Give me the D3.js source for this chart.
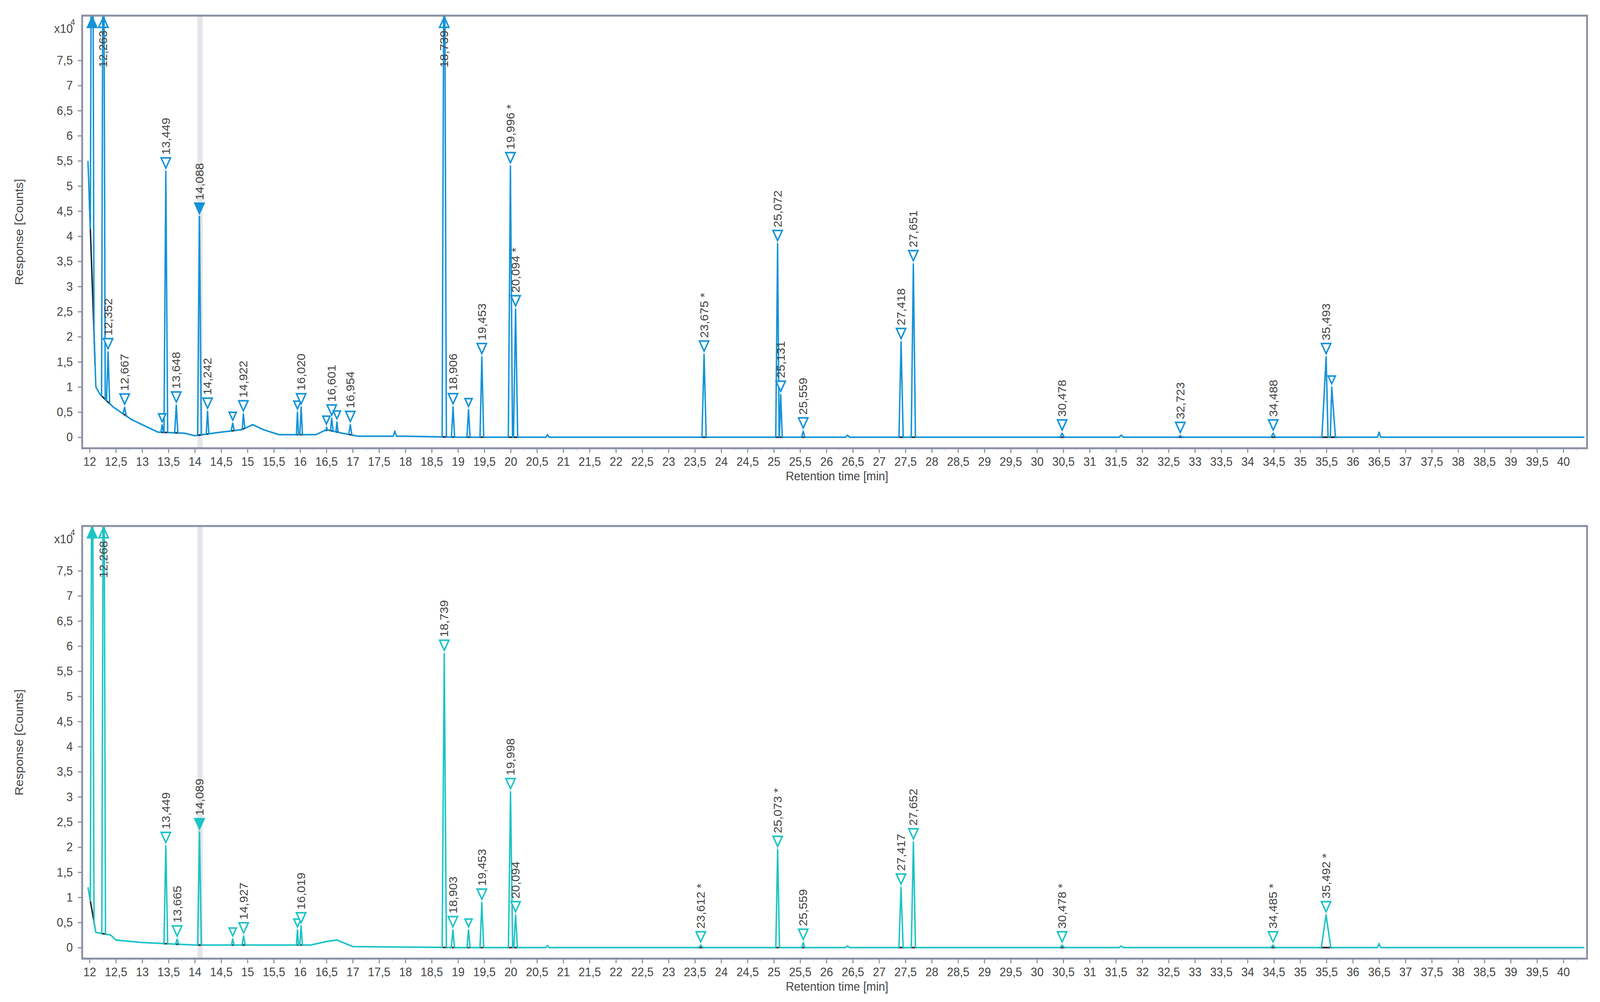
<!DOCTYPE html>
<html><head><meta charset="utf-8">
<script src="https://cdn.jsdelivr.net/npm/d3@7"></script>
<style>html,body{margin:0;padding:0;background:#fff;overflow:hidden}svg{display:block;width:100vw;height:100vh}text{font-family:"Liberation Sans",Arial,sans-serif;fill:#444}</style>
</head><body>
<svg id="chart" viewBox="0 0 4439 2564" preserveAspectRatio="none"></svg>
<script>
// peaks: [retention time, height (x10^4), half width, label, marker]
// marker: v = open down triangle, f = filled, u = off-scale (up triangle at top)
const topPeaks = [
  [12.05, 12, 0.035, '', 'u'], [12.263, 12, 0.035, '12,263', 'u'], [12.352, 1.0, 0.03, '12,352', 'v'],
  [12.667, 0.15, 0.03, '12,667', 'v'], [13.38, 0.15, 0.025, '', 'v'], [13.449, 5.2, 0.035, '13,449', 'v'],
  [13.648, 0.55, 0.03, '13,648', 'v'], [14.088, 4.35, 0.035, '14,088', 'f'], [14.242, 0.45, 0.025, '14,242', 'v'],
  [14.72, 0.15, 0.03, '', 'v'], [14.922, 0.3, 0.03, '14,922', 'v'], [15.95, 0.45, 0.02, '', 'v'],
  [16.02, 0.55, 0.025, '16,020', 'v'], [16.5, 0.05, 0.02, '', 'v'], [16.601, 0.25, 0.025, '16,601', 'v'],
  [16.7, 0.2, 0.02, '', 'v'], [16.954, 0.2, 0.03, '16,954', 'v'], [17.8, 0.1, 0.03, '', ''],
  [18.739, 12, 0.04, '18,739', 'u'], [18.906, 0.6, 0.03, '18,906', 'v'], [19.2, 0.55, 0.03, '', 'v'],
  [19.453, 1.6, 0.035, '19,453', 'v'], [19.996, 5.4, 0.04, '19,996 *', 'v'], [20.094, 2.55, 0.04, '20,094 *', 'v'],
  [20.7, 0.05, 0.03, '', ''], [23.675, 1.65, 0.04, '23,675 *', 'v'], [25.072, 3.85, 0.035, '25,072', 'v'],
  [25.131, 0.85, 0.03, '25,131', 'v'], [25.559, 0.12, 0.03, '25,559', 'v'], [26.4, 0.04, 0.04, '', ''],
  [27.418, 1.9, 0.04, '27,418', 'v'], [27.651, 3.45, 0.04, '27,651', 'v'], [30.478, 0.08, 0.04, '30,478', 'v'],
  [31.6, 0.04, 0.04, '', ''], [32.723, 0.03, 0.04, '32,723', 'v'], [34.488, 0.08, 0.04, '34,488', 'v'],
  [35.493, 1.6, 0.08, '35,493', 'v'], [35.6, 1.0, 0.07, '', 'v'], [36.5, 0.1, 0.03, '', '']
]
const topBase = [[11.97, 5.5], [12.12, 1.0], [12.2, 0.85], [12.45, 0.6], [12.8, 0.35], [13.0, 0.25], [13.3, 0.1],
  [13.8, 0.08], [14.0, 0.03], [14.5, 0.1], [14.9, 0.15], [15.1, 0.25], [15.3, 0.15], [15.6, 0.05], [16.3, 0.05],
  [16.5, 0.15], [16.8, 0.08], [17.1, 0.02], [18, 0.02], [19, 0], [40.4, 0]]

const bottomPeaks = [
  [12.05, 12, 0.035, '', 'u'], [12.268, 12, 0.035, '12,268', 'u'], [13.449, 1.95, 0.035, '13,449', 'v'],
  [13.665, 0.1, 0.03, '13,665', 'v'], [14.089, 2.25, 0.035, '14,089', 'f'], [14.72, 0.12, 0.025, '', 'v'],
  [14.927, 0.18, 0.03, '14,927', 'v'], [15.95, 0.3, 0.02, '', 'v'], [16.019, 0.38, 0.025, '16,019', 'v'],
  [18.739, 5.85, 0.04, '18,739', 'v'], [18.903, 0.35, 0.03, '18,903', 'v'], [19.2, 0.35, 0.03, '', 'v'],
  [19.453, 0.9, 0.035, '19,453', 'v'], [19.998, 3.1, 0.04, '19,998', 'v'], [20.094, 0.65, 0.035, '20,094', 'v'],
  [20.7, 0.04, 0.03, '', ''], [23.612, 0.05, 0.04, '23,612 *', 'v'], [25.073, 1.95, 0.035, '25,073 *', 'v'],
  [25.559, 0.1, 0.03, '25,559', 'v'], [26.4, 0.03, 0.04, '', ''], [27.417, 1.2, 0.04, '27,417', 'v'],
  [27.652, 2.1, 0.04, '27,652', 'v'], [30.478, 0.05, 0.04, '30,478 *', 'v'], [31.6, 0.03, 0.04, '', ''],
  [34.485, 0.05, 0.04, '34,485 *', 'v'], [35.492, 0.65, 0.09, '35,492 *', 'v'], [36.5, 0.08, 0.03, '', '']
]
const bottomBase = [[11.97, 1.2], [12.12, 0.3], [12.4, 0.25], [12.5, 0.15], [13.0, 0.1], [14.0, 0.05],
  [15.0, 0.05], [16.2, 0.05], [16.5, 0.12], [16.7, 0.15], [17.0, 0.02], [18, 0.01], [19, 0], [40.4, 0]]

const xTicks = d3.range(12, 40.01, 0.5)
const yTicks = d3.range(0, 7.51, 0.5)

const svg = d3.select('#chart')
const fmt = v => String(+v.toFixed(1)).replace('.', ',')

function panel(peaks, base, color, top, bottom) {
  const left = 228, right = 4403
  const x = d3.scaleLinear().domain([11.86, 40.45]).range([left, right])
  const y = d3.scaleLinear().domain([-0.22, 8.39]).range([bottom, top])
  const g = svg.append('g')
  const clipId = 'c' + top
  g.append('clipPath').attr('id', clipId).append('rect')
    .attr('x', left).attr('y', top).attr('width', right - left).attr('height', bottom - top)

  // highlight band
  g.append('rect').attr('x', x(14.05)).attr('width', x(14.15) - x(14.05))
    .attr('y', top).attr('height', bottom - top).attr('fill', '#e4e6ea')

  const baseAt = d3.scaleLinear().domain(base.map(d => d[0])).range(base.map(d => d[1])).clamp(true)
  let pts = base.slice()
  peaks.forEach(p => {
    pts.push([p[0] - p[2], baseAt(p[0] - p[2])], [p[0], baseAt(p[0]) + p[1]], [p[0] + p[2], baseAt(p[0] + p[2])])
  })
  pts.sort((a, b) => a[0] - b[0])
  const line = d3.line().x(d => x(d[0])).y(d => y(d[1]))

  const plot = g.append('g').attr('clip-path', `url(#${clipId})`)
  // integration baselines
  peaks.filter(p => p[4]).forEach(p => {
    const a = p[0] - p[2] * 1.6, b = p[0] + p[2] * 1.6
    plot.append('path').attr('d', line([[a, baseAt(a)], [b, baseAt(b)]]))
      .attr('stroke', '#222').attr('stroke-width', 4).attr('fill', 'none')
  })
  plot.append('path').datum(pts).attr('d', line)
    .attr('fill', 'none').attr('stroke', color).attr('stroke-width', 4).attr('stroke-linejoin', 'round')

  // markers + labels
  const tri = 26
  peaks.filter(p => p[4]).forEach(p => {
    const px = x(p[0])
    if (p[4] === 'u') {
      const ty = top + 4
      g.append('path').attr('d', `M${px},${ty} L${px - tri / 2},${ty + tri} L${px + tri / 2},${ty + tri} Z`)
        .attr('fill', p[3] ? 'none' : color).attr('stroke', color).attr('stroke-width', 4)
      if (p[3]) g.append('text').attr('transform', `translate(${px + 10},${ty + tri + 8}) rotate(-90)`)
        .attr('text-anchor', 'end').attr('font-size', 31).text(p[3])
    } else {
      const py = y(baseAt(p[0]) + p[1]) - 8
      const s = p[3] ? tri : 20
      g.append('path').attr('d', `M${px},${py} L${px - s / 2},${py - s} L${px + s / 2},${py - s} Z`)
        .attr('fill', p[4] === 'f' ? color : '#fff').attr('stroke', color).attr('stroke-width', 4)
      if (p[3]) g.append('text').attr('transform', `translate(${px + 11},${py - s - 8}) rotate(-90)`)
        .attr('font-size', 31).text(p[3])
    }
  })

  // frame
  g.append('rect').attr('x', left).attr('y', top).attr('width', right - left).attr('height', bottom - top)
    .attr('fill', 'none').attr('stroke', '#8a8fa3').attr('stroke-width', 5)

  const xAxis = d3.axisBottom(x).tickValues(xTicks).tickFormat(fmt).tickSize(12).tickPadding(10)
  const ax = g.append('g').attr('transform', `translate(0,${bottom})`).call(xAxis)
  ax.select('.domain').remove()
  ax.selectAll('.tick line').attr('stroke', '#8a8fa3').attr('stroke-width', 3)
  ax.selectAll('.tick text').attr('font-size', 32).style('fill', '#444')
  g.append('g').attr('transform', `translate(0,${bottom})`)
    .call(d3.axisBottom(x).tickValues(d3.range(12.25, 40.3, 0.5)).tickFormat('').tickSize(7))
    .call(a => a.select('.domain').remove()).selectAll('line').attr('stroke', '#aab')

  const yAxis = d3.axisLeft(y).tickValues(yTicks).tickFormat(fmt).tickSize(12).tickPadding(14)
  const ay = g.append('g').attr('transform', `translate(${left},0)`).call(yAxis)
  ay.select('.domain').remove()
  ay.selectAll('.tick line').attr('stroke', '#8a8fa3').attr('stroke-width', 3)
  ay.selectAll('.tick text').attr('font-size', 32).style('fill', '#444')
  g.append('g').attr('transform', `translate(${left},0)`)
    .call(d3.axisLeft(y).tickValues(d3.range(0.1, 8.35, 0.1).filter(v => Math.abs(v * 2 - Math.round(v * 2)) > 0.01)).tickFormat('').tickSize(6))
    .call(a => a.select('.domain').remove()).selectAll('line').attr('stroke', '#bbc')

  g.append('text').attr('x', left - 26).attr('y', y(8.05)).attr('text-anchor', 'end').attr('font-size', 32).text('x10')
  g.append('text').attr('x', left - 20).attr('y', y(8.2)).attr('text-anchor', 'end').attr('font-size', 22).text('4')

  g.append('text').attr('transform', `translate(64,${(top + bottom) / 2}) rotate(-90)`)
    .attr('text-anchor', 'middle').attr('font-size', 32).text('Response [Counts]')
  g.append('text').attr('x', x(26.2)).attr('y', bottom + 82).attr('text-anchor', 'middle')
    .attr('font-size', 32).text('Retention time [min]')
}

panel(topPeaks, topBase, '#1493d8', 40, 1147)
panel(bottomPeaks, bottomBase, '#1cc3c6', 1346, 2453)
</script>
</body></html>
